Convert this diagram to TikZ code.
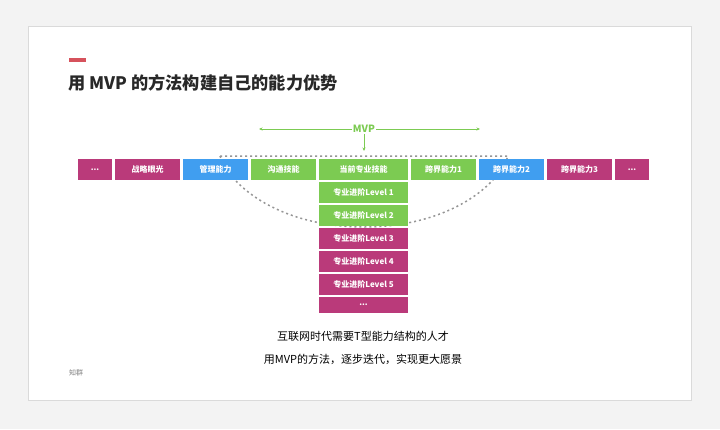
\documentclass[tikz,border=0pt]{standalone}
\usepackage{fontspec}
\setmainfont{Noto Sans CJK SC}
\usetikzlibrary{arrows.meta}
\definecolor{mag}{RGB}{186,58,122}
\definecolor{blu}{RGB}{64,158,240}
\definecolor{grn}{RGB}{124,203,82}
\definecolor{redbar}{RGB}{214,82,92}
\definecolor{bg}{RGB}{243,243,243}
\definecolor{frame}{RGB}{218,218,218}
\definecolor{ttl}{RGB}{40,40,40}
\definecolor{dots}{RGB}{150,150,150}
\tikzset{
  bx/.style={inner sep=0pt, text=white, minimum height=21pt, font=\fontsize{8}{9}\selectfont\bfseries},
  colbox/.style={bx, minimum width=89pt},
  mvparrow/.style={draw=grn, line width=0.6pt, -{Stealth[length=3.5pt,width=3pt]}},
  dotline/.style={draw=dots, line width=1.5pt, dash pattern=on 2pt off 3pt}
}
\begin{document}
\begin{tikzpicture}[x=1pt,y=-1pt]
\useasboundingbox (0,0) rectangle (720,429);
\fill[bg] (0,0) rectangle (720,429);
\filldraw[fill=white, draw=frame, line width=0.8pt] (28,26) rectangle (691,400);
\fill[redbar] (69,58) rectangle (86,61.5);
\node[anchor=west, inner sep=0pt, text=ttl, font=\fontsize{17.2}{19}\selectfont\bfseries] (title) at (68,83) {用 MVP 的方法构建自己的能力优势};

% dashed outline (behind the boxes)
\coordinate (dl) at (220,156);
\coordinate (dr) at (508,156);
\coordinate (db) at (364,227);
\draw[dotline] (dl) -- (dr) .. controls (496,190) and (443,227) .. (db) .. controls (285,227) and (232,190) .. (dl);

% MVP label and arrows
\node[inner sep=1pt, text=grn, font=\fontsize{10}{11}\selectfont\bfseries] (mvp) at (364,129) {MVP};
\coordinate (mvpL) at (259,129);
\coordinate (mvpR) at (480,129);
\coordinate (mvpD) at (364,151);
\draw[mvparrow] (mvp.west) -- (mvpL);
\draw[mvparrow] (mvp.east) -- (mvpR);
\draw[mvparrow] (mvp.south) -- (mvpD);

% top row
\node[bx, fill=mag, minimum width=34pt] (d1) at (95,169.5) {...};
\node[bx, fill=mag, minimum width=65pt] (zl) at (147.5,169.5) {战略眼光};
\node[bx, fill=blu, minimum width=65pt] (gl) at (215.5,169.5) {管理能力};
\node[bx, fill=grn, minimum width=65pt] (gt) at (283.5,169.5) {沟通技能};
\node[colbox, fill=grn] (dq) at (363.5,169.5) {当前专业技能};
\node[bx, fill=grn, minimum width=65pt] (k1) at (443.5,169.5) {跨界能力1};
\node[bx, fill=blu, minimum width=65pt] (k2) at (511.5,169.5) {跨界能力2};
\node[bx, fill=mag, minimum width=65pt] (k3) at (579.5,169.5) {跨界能力3};
\node[bx, fill=mag, minimum width=34pt] (d2) at (632,169.5) {...};

% column
\node[colbox, fill=grn] (l1) at (363.5,192.5) {专业进阶Level 1};
\node[colbox, fill=grn] (l2) at (363.5,215.5) {专业进阶Level 2};
\node[colbox, fill=mag] (l3) at (363.5,238.5) {专业进阶Level 3};
\node[colbox, fill=mag] (l4) at (363.5,261.5) {专业进阶Level 4};
\node[colbox, fill=mag] (l5) at (363.5,284.5) {专业进阶Level 5};
\node[colbox, fill=mag, minimum height=16pt] (l6) at (363.5,305) {...};

% bottom texts
\node[inner sep=0pt, font=\fontsize{11}{13}\selectfont, text=black] (t1) at (363,336) {互联网时代需要T型能力结构的人才};
\node[inner sep=0pt, font=\fontsize{11}{13}\selectfont, text=black] (t2) at (363,359) {用MVP的方法，逐步迭代，实现更大愿景};
\node[anchor=west, inner sep=0pt, font=\fontsize{7}{8}\selectfont, text=gray] (zq) at (69,373) {知群};
\end{tikzpicture}
\end{document}
